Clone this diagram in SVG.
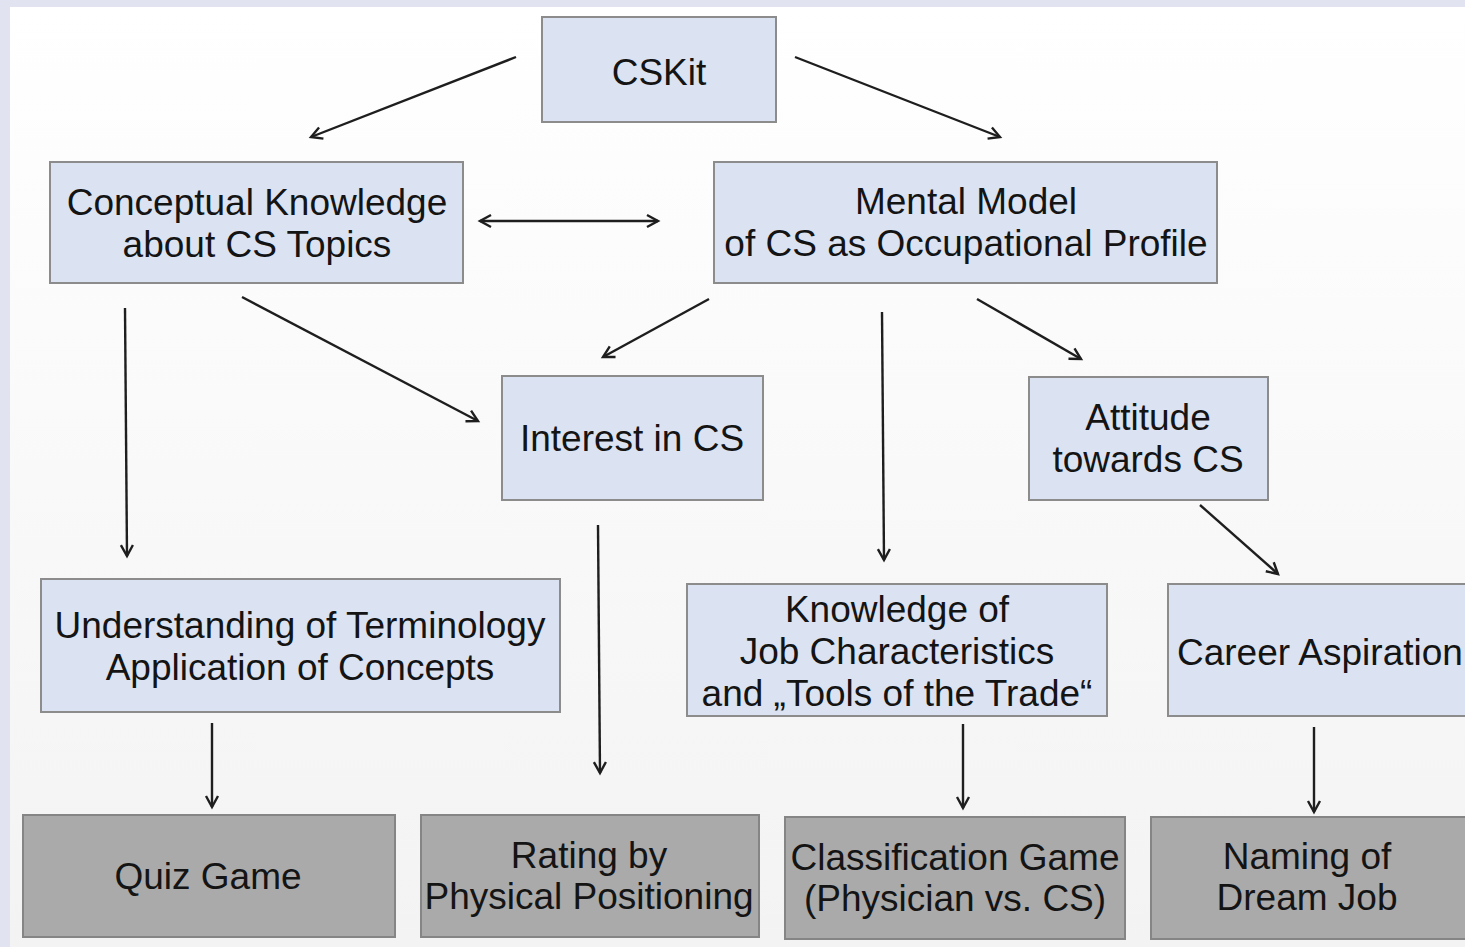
<svg xmlns="http://www.w3.org/2000/svg" width="1465" height="947" viewBox="0 0 1465 947">
<defs>
<linearGradient id="bg" x1="0" y1="0" x2="0" y2="1">
<stop offset="0" stop-color="#ffffff"/>
<stop offset="1" stop-color="#f3f3f3"/>
</linearGradient>
<marker id="ah" viewBox="0 0 16 16" refX="13" refY="8" markerWidth="16" markerHeight="16" markerUnits="userSpaceOnUse" orient="auto-start-reverse">
<path d="M2,2 L13,8 L2,14" fill="none" stroke="#1e1e1e" stroke-width="2.4"/>
</marker>
</defs>
<style>
.b{fill:#dbe3f2;stroke:#8c8c8c;stroke-width:2}
.g{fill:#aaaaaa;stroke:#858585;stroke-width:2}
text{font-family:"Liberation Sans",Arial,sans-serif;font-size:37px;fill:#141414;text-anchor:middle}
.c line{stroke:#1e1e1e;stroke-width:2.4;marker-end:url(#ah)}
</style>
<rect x="0" y="0" width="1465" height="947" fill="#e1e4f0"/>
<rect x="10" y="7" width="1455" height="940" fill="url(#bg)"/>

<g id="cskit"><rect class="b" x="542" y="17" width="234" height="105"/><text x="659" y="85">CSKit</text></g>
<g id="conceptual"><rect class="b" x="50" y="162" width="413" height="121"/><text x="257" y="215">Conceptual Knowledge</text><text x="257" y="257">about CS Topics</text></g>
<g id="mental"><rect class="b" x="714" y="162" width="503" height="121"/><text x="966" y="214">Mental Model</text><text x="966" y="256">of CS as Occupational Profile</text></g>
<g id="interest"><rect class="b" x="502" y="376" width="261" height="124"/><text x="632" y="451">Interest in CS</text></g>
<g id="attitude"><rect class="b" x="1029" y="377" width="239" height="123"/><text x="1148" y="430">Attitude</text><text x="1148" y="472">towards CS</text></g>
<g id="understanding"><rect class="b" x="41" y="579" width="519" height="133"/><text x="300" y="638">Understanding of Terminology</text><text x="300" y="680">Application of Concepts</text></g>
<g id="knowledge"><rect class="b" x="687" y="584" width="420" height="132"/><text x="897" y="622">Knowledge of</text><text x="897" y="664">Job Characteristics</text><text x="897" y="706">and „Tools of the Trade“</text></g>
<g id="career"><rect class="b" x="1168" y="584" width="310" height="132"/><text x="1177" y="665" style="text-anchor:start">Career Aspiration</text></g>
<g id="quiz"><rect class="g" x="23" y="815" width="372" height="122"/><text x="208" y="889">Quiz Game</text></g>
<g id="rating"><rect class="g" x="421" y="815" width="338" height="122"/><text x="589" y="868">Rating by</text><text x="589" y="909">Physical Positioning</text></g>
<g id="classification"><rect class="g" x="785" y="817" width="340" height="122"/><text x="955" y="870">Classification Game</text><text x="955" y="911">(Physician vs. CS)</text></g>
<g id="naming"><rect class="g" x="1151" y="817" width="320" height="122"/><text x="1307" y="869">Naming of</text><text x="1307" y="910">Dream Job</text></g>

<g id="connectors" class="c">
<line x1="516" y1="57" x2="311" y2="137"/>
<line x1="795" y1="57" x2="1000" y2="137"/>
<line x1="480" y1="221" x2="658" y2="221" marker-start="url(#ah)"/>
<line x1="709" y1="299" x2="603" y2="357"/>
<line x1="242" y1="297" x2="478" y2="421"/>
<line x1="125" y1="308" x2="127" y2="556"/>
<line x1="882" y1="312" x2="884" y2="560"/>
<line x1="977" y1="299" x2="1081" y2="359"/>
<line x1="598" y1="525" x2="600" y2="773"/>
<line x1="1200" y1="505" x2="1278" y2="574"/>
<line x1="212" y1="723" x2="212" y2="807"/>
<line x1="963" y1="724" x2="963" y2="808"/>
<line x1="1314" y1="727" x2="1314" y2="812"/>
</g>
</svg>
